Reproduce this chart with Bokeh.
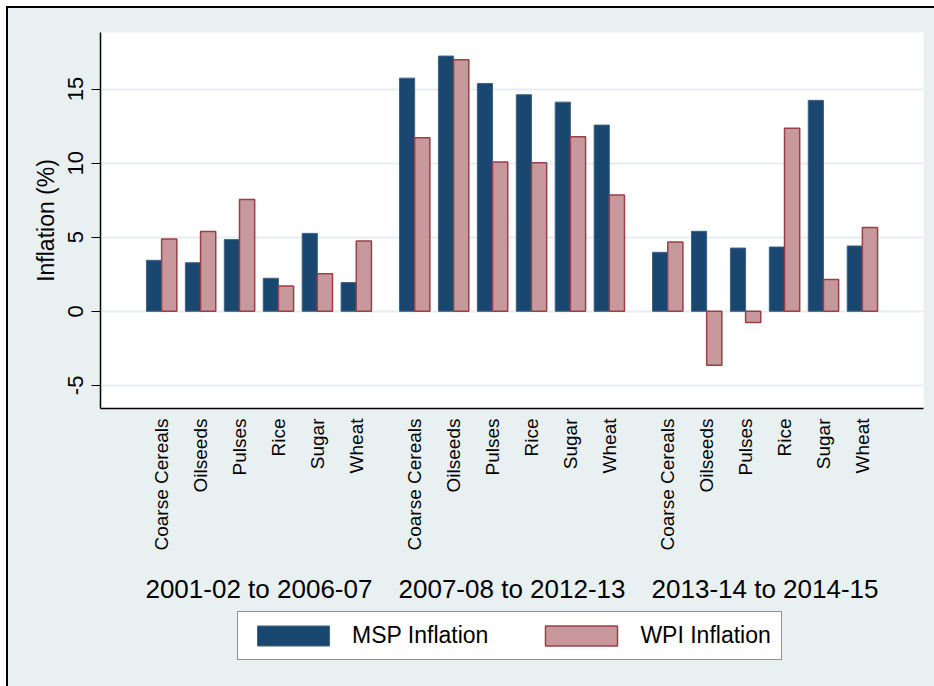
import math
from bokeh.plotting import figure
from bokeh.layouts import column
from bokeh.models import FactorRange, Range1d, Legend, LegendItem, ColumnDataSource, FixedTicker
from bokeh.transform import dodge
from bokeh.embed import file_html
from bokeh.resources import INLINE

periods = ["2001-02 to 2006-07", "2007-08 to 2012-13", "2013-14 to 2014-15"]
crops = ["Coarse Cereals", "Oilseeds", "Pulses", "Rice", "Sugar", "Wheat"]
msp_2001 = [3.44, 3.28, 4.84, 2.23, 5.26, 1.94]
wpi_2001 = [4.88, 5.38, 7.54, 1.71, 2.54, 4.74]
msp_2007 = [15.74, 17.23, 15.38, 14.62, 14.12, 12.57]
wpi_2007 = [11.72, 16.98, 10.08, 10.03, 11.79, 7.85]
msp_2013 = [3.98, 5.40, 4.27, 4.34, 14.24, 4.41]
wpi_2013 = [4.68, -3.64, -0.76, 12.35, 2.14, 5.65]
y_ticks = [-5, 0, 5, 10, 15]
y_tick_labels = ["-5", "0", "5", "10", "15"]
series_names = ["MSP Inflation", "WPI Inflation"]

msp = msp_2001 + msp_2007 + msp_2013
wpi = wpi_2001 + wpi_2007 + wpi_2013
# leading no-break spaces only extend the label box (labels are anchored at their end)
factors = [(per, "\u00a0\u00a0" + c) for per in periods for c in crops]
src = ColumnDataSource(dict(x=factors, msp=msp, wpi=wpi))

FONT = "Liberation Sans"
BG = "#e9f0f2"
MSP_FILL, MSP_LINE = "#1a476f", "#3f6488"
WPI_FILL, WPI_LINE = "#c8999c", "#9a3f46"

xr = FactorRange(*factors, group_padding=0.5, range_padding=1.07,
                 range_padding_units="absolute")

p = figure(
    width=926, height=600, x_range=xr, y_range=Range1d(-6.56, 18.82),
    output_backend="svg", toolbar_location=None,
    min_border_left=92, min_border_top=24, min_border_right=11, min_border_bottom=200,
)
p.border_fill_color = BG
p.background_fill_color = "white"
p.outline_line_color = None

p.vbar(x=dodge("x", -0.195, range=xr), top="msp", width=0.39, source=src,
       fill_color=MSP_FILL, line_color=MSP_LINE, line_width=1)
p.vbar(x=dodge("x", 0.195, range=xr), top="wpi", width=0.39, source=src,
       fill_color=WPI_FILL, line_color=WPI_LINE, line_width=1.5)

# grid
p.xgrid.grid_line_color = None
p.ygrid.grid_line_color = "#e5eef1"
p.ygrid.grid_line_width = 2
p.ygrid.ticker = FixedTicker(ticks=y_ticks)

# y axis
ya = p.yaxis[0]
ya.ticker = FixedTicker(ticks=y_ticks)
ya.major_label_overrides = dict(zip(y_ticks, y_tick_labels))
ya.major_label_orientation = "vertical"
ya.major_label_text_font = FONT
ya.major_label_text_font_size = "22px"
ya.major_label_text_color = "black"
ya.major_label_standoff = 8
ya.major_tick_out = 9
ya.major_tick_in = 0
ya.minor_tick_line_color = None
ya.major_tick_line_color = "black"
ya.axis_line_color = "black"
ya.axis_line_width = 1.5
ya.axis_label = "Inflation (%)"
ya.axis_label_text_font = FONT
ya.axis_label_text_font_size = "23px"
ya.axis_label_text_font_style = "normal"
ya.axis_label_text_color = "black"
ya.axis_label_standoff = 7

# x axis
xa = p.xaxis[0]
xa.axis_line_color = "black"
xa.axis_line_width = 1.5
xa.major_tick_line_color = None
xa.major_tick_out = 0
xa.major_tick_in = 0
xa.minor_tick_line_color = None
xa.major_label_orientation = math.pi / 2
xa.major_label_text_font = FONT
xa.major_label_text_font_size = "19px"
xa.major_label_text_color = "black"
xa.major_label_standoff = 10
xa.group_text_font = FONT
xa.group_text_font_size = "26px"
xa.group_text_font_style = "normal"
xa.group_text_color = "black"
xa.separator_line_alpha = 0

# legend strip: hidden copies of the bar renderers feed the legend swatches
lp = figure(width=926, height=78, x_range=xr, y_range=Range1d(-6.56, 18.82),
            output_backend="svg", toolbar_location=None,
            x_axis_location=None, y_axis_location=None,
            min_border_left=0, min_border_right=0, min_border_top=0, min_border_bottom=0)
lp.border_fill_color = BG
lp.background_fill_alpha = 0
lp.outline_line_color = None
lp.grid.grid_line_color = None
k1 = lp.vbar(x=dodge("x", -0.195, range=xr), top="msp", width=0.39, source=src,
             fill_color=MSP_FILL, line_color=MSP_LINE, line_width=1, visible=False)
k2 = lp.vbar(x=dodge("x", 0.195, range=xr), top="wpi", width=0.39, source=src,
             fill_color=WPI_FILL, line_color=WPI_LINE, line_width=1.5, visible=False)

legend = Legend(
    items=[LegendItem(label=series_names[0], renderers=[k1]),
           LegendItem(label=series_names[1], renderers=[k2])],
    orientation="horizontal", location=(137, 26),
    glyph_width=90, glyph_height=25, label_standoff=14, spacing=48,
    padding=10, margin=0, inactive_fill_alpha=0,
    label_text_font=FONT, label_text_font_size="23px", label_text_color="black",
    border_line_color="#222222", border_line_width=1.5,
    background_fill_color="white", background_fill_alpha=1,
)
lp.add_layout(legend, "center")

col = column(p, lp, spacing=0)
col.styles = {"border-left": "2px solid black", "border-top": "2px solid black",
              "margin-left": "6px", "margin-top": "6px", "background-color": BG}

open("out.html", "w").write(file_html(col, INLINE))
